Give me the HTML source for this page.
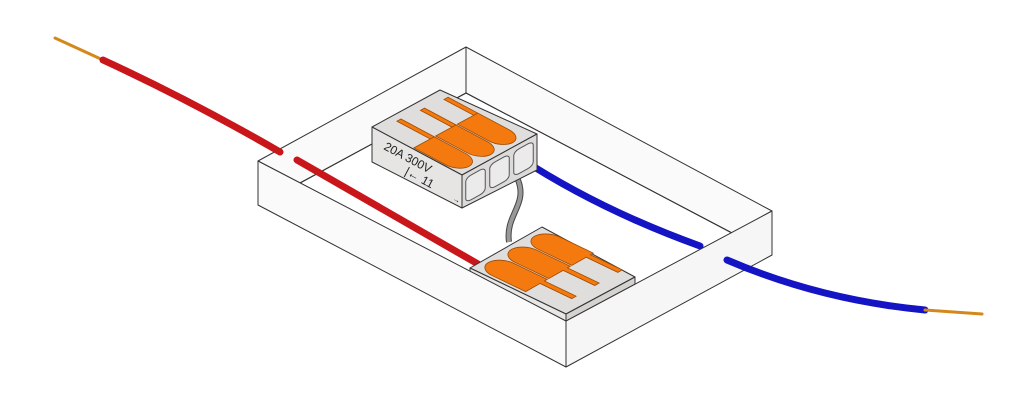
<!DOCTYPE html>
<html><head><meta charset="utf-8"><style>
html,body{margin:0;padding:0;background:#fff;width:1024px;height:406px;overflow:hidden}
svg{display:block}
.nl{vector-effect:non-scaling-stroke}
</style></head><body>
<svg width="1024" height="406" viewBox="0 0 1024 406" xmlns="http://www.w3.org/2000/svg">
<g stroke="#333" stroke-width="1" stroke-linejoin="round">
  <polygon points="258,161 466,47 466,93 300,183" fill="#fafafa"/>
  <polygon points="466,47 772,211 732,233 466,93" fill="#fafafa"/>
  <line x1="300" y1="183" x2="466" y2="93"/>
  <line x1="466" y1="93" x2="732" y2="233"/>
</g>

<path d="M297,160 L478,264" stroke="#c8161a" stroke-width="7" stroke-linecap="round" fill="none"/>
<path d="M518,180 C528,205 505,215 509,242" stroke="#444" stroke-width="6" fill="none"/>
<path d="M518,180 C528,205 505,215 509,242" stroke="#999" stroke-width="4" fill="none"/>
<path d="M520,158 Q600,210 700,246" stroke="#1414c4" stroke-width="7" stroke-linecap="round" fill="none"/>

<!-- top connector -->
<g stroke="#333" stroke-width="1" stroke-linejoin="round">
  <polygon points="372,127 440,90 537,134 462,175" fill="#dfdedc"/>
  <polygon points="372,127 462,175 462,208 372,162" fill="#e6e5e3"/>
  <polygon points="462,175 537,134 537,170 462,208" fill="#dcdbd9"/>
</g>
<g transform="matrix(75,-41,0,33,462,175)" fill="#ebebeb" stroke="#555">
  <rect class="nl" x="0.05" y="0.15" width="0.26" height="0.75" rx="0.07" ry="0.12" stroke-width="1"/>
  <rect class="nl" x="0.37" y="0.15" width="0.26" height="0.75" rx="0.07" ry="0.12" stroke-width="1"/>
  <rect class="nl" x="0.69" y="0.15" width="0.26" height="0.75" rx="0.07" ry="0.12" stroke-width="1"/>
</g>
<g transform="matrix(90,48,68,-37,372,127)" fill="#f47a10" stroke="#a04a00">
  <path class="nl" stroke-width="0.8" d="M0.08,0.26 L0.08,0.32 L0.45,0.32 L0.45,0.02 L0.8,0.02 A0.15,0.15 0 0 1 0.8,0.32 L0.45,0.32 L0.45,0.26 Z"/>
  <path class="nl" stroke-width="0.8" d="M0.1,0.58 L0.1,0.64 L0.45,0.64 L0.45,0.34 L0.8,0.34 A0.15,0.15 0 0 1 0.8,0.64 L0.45,0.64 L0.45,0.58 Z"/>
  <path class="nl" stroke-width="0.8" d="M0.12,0.9 L0.12,0.96 L0.45,0.96 L0.45,0.66 L0.8,0.66 A0.15,0.15 0 0 1 0.8,0.96 L0.45,0.96 L0.45,0.9 Z"/>
</g>
<text font-family="Liberation Sans, sans-serif" font-size="12" fill="#222" transform="translate(383,149) rotate(28)">20A 300V</text>
<text font-family="Liberation Sans, sans-serif" font-size="12" fill="#222" transform="translate(404,174) rotate(28)">|← 11</text>
<text font-family="Liberation Sans, sans-serif" font-size="8" fill="#222" transform="translate(452,200) rotate(28)">→</text>

<!-- bottom connector -->
<g stroke="#333" stroke-width="1" stroke-linejoin="round">
  <polygon points="470,268 542,227 635,277 566,314" fill="#dfdedc"/>
  <polygon points="470,268 566,314 566,322 470,276" fill="#e8e7e5"/>
  <polygon points="566,314 635,277 635,285 566,322" fill="#d4d3d1"/>
</g>
<g transform="matrix(96,46,72,-41,470,268)" fill="#f47a10" stroke="#a04a00">
  <path class="nl" stroke-width="0.8" d="M0.2,0.04 L0.55,0.04 L0.55,0.24 L0.88,0.24 L0.88,0.3 L0.55,0.3 L0.55,0.34 L0.2,0.34 A0.15,0.15 0 0 1 0.2,0.04 Z"/>
  <path class="nl" stroke-width="0.8" d="M0.2,0.36 L0.55,0.36 L0.55,0.56 L0.88,0.56 L0.88,0.62 L0.55,0.62 L0.55,0.66 L0.2,0.66 A0.15,0.15 0 0 1 0.2,0.36 Z"/>
  <path class="nl" stroke-width="0.8" d="M0.2,0.68 L0.55,0.68 L0.55,0.88 L0.88,0.88 L0.88,0.94 L0.55,0.94 L0.55,0.98 L0.2,0.98 A0.15,0.15 0 0 1 0.2,0.68 Z"/>
</g>

<g stroke="#333" stroke-width="1" stroke-linejoin="round">
  <polygon points="258,161 566,321 566,367 258,205" fill="#fafafa"/>
  <polygon points="566,321 772,211 772,255 566,367" fill="#f6f6f6"/>
</g>

<path d="M55,38 L103,60" stroke="#d4881a" stroke-width="3" stroke-linecap="round" fill="none"/>
<path d="M103,60 Q190,100 280,152" stroke="#c8161a" stroke-width="7" stroke-linecap="round" fill="none"/>
<path d="M727,260 Q820,300 925,310" stroke="#1414c4" stroke-width="7" stroke-linecap="round" fill="none"/>
<path d="M925,310 L982,314" stroke="#d4881a" stroke-width="3" stroke-linecap="round" fill="none"/>
</svg>
</body></html>
